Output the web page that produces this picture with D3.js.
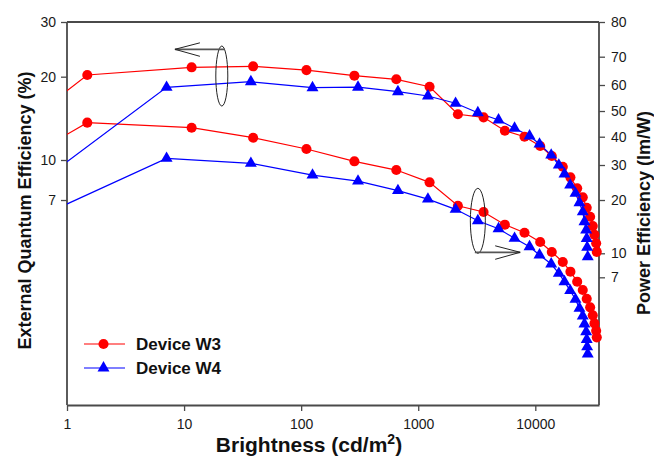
<!DOCTYPE html>
<html>
<head>
<meta charset="utf-8">
<script src="https://cdn.jsdelivr.net/npm/d3@7/dist/d3.min.js"></script>
<style>
  html, body { margin: 0; padding: 0; background: #fff; }
  svg { display: block; font-family: "Liberation Sans", Arial, sans-serif; }
</style>
</head>
<body>
<svg id="chart" width="654" height="457"></svg>
<script>
// ---------------- DATA ----------------
const xTicks = [1, 10, 100, 1000, 10000];
const leftTicks = [7, 10, 20, 30];
const rightTicks = [7, 10, 20, 30, 40, 50, 60, 70, 80];

const seriesNames = ["Device W3", "Device W4"];

const brightnessW3 = [0.6, 1.49, 11.6, 38.9, 111, 285, 650, 1250, 2182, 3614, 5495, 8090, 11010, 13830, 17170, 19950, 22790, 25430, 27490, 29400, 30970, 32000, 33100, 33500];
const eqeW3 = [15.06, 20.25, 21.44, 21.6, 21.0, 20.15, 19.57, 18.4, 14.63, 14.26, 12.76, 12.14, 11.23, 10.34, 9.42, 8.57, 7.77, 7.17, 6.53, 6.03, 5.55, 5.14, 4.76, 4.41];
const peW3 = [35.2, 45.2, 43.25, 39.6, 35.3, 31.15, 28.3, 24.55, 18.57, 17.11, 14.51, 13.07, 11.58, 10.17, 8.79, 7.61, 6.56, 5.80, 5.09, 4.48, 3.98, 3.53, 3.16, 2.87];

const brightnessW4 = [0.6, 7.09, 37.2, 125, 306, 671, 1210, 2085, 3230, 4853, 6650, 8930, 10860, 13670, 15880, 17750, 19850, 22030, 23830, 25430, 26300, 27190, 27490, 27730, 28050];
const eqeW4 = [8.28, 18.31, 19.18, 18.25, 18.33, 17.65, 17.03, 16.03, 14.82, 13.95, 13.02, 12.21, 11.42, 10.42, 9.56, 8.83, 8.00, 7.43, 6.83, 6.30, 5.77, 5.36, 4.97, 4.59, 4.22];
const peW4 = [16.26, 32.1, 30.5, 26.7, 24.9, 22.3, 20.2, 17.72, 15.28, 13.77, 12.15, 10.89, 9.75, 8.53, 7.43, 6.56, 5.74, 5.05, 4.41, 3.94, 3.50, 3.12, 2.78, 2.49, 2.24];

// annotation anchors in data units
const eqeMarker = { x: 21, y: 20.1, tipX: 8.35, tipY: 24.5 };   // left axis
const peMarker = { x: 3230, y: 15.26, tipX: 7430, tipY: 10.13 }; // right axis

// ---------------- LAYOUT ----------------
const W = 654, H = 457;
const m = { left: 67, top: 22, right: 55, bottom: 52 };
const pw = W - m.left - m.right;   // 532
const ph = H - m.top - m.bottom;   // 383
const xMax = 35000;
// axis calibration (fraction of plot height from top for each tick value)
const leftFrac = [0.4648, 0.3603, 0.1428, 0];
const rightFrac = [0.6666, 0.6039, 0.4648, 0.3734, 0.2995, 0.2324, 0.1645, 0.0906, 0];

const RED = "#ff0000", BLUE = "#0000ff", AX = "#4a4a4a";

const svg = d3.select("#chart");
const g = svg.append("g").attr("transform", `translate(${m.left},${m.top})`);

const x = d3.scaleLog().domain([1, xMax]).range([0, pw]);
const yL = d3.scaleLog().domain(leftTicks).range(leftFrac.map(f => f * ph));
const yR = d3.scaleLog().domain(rightTicks).range(rightFrac.map(f => f * ph));

svg.append("defs").append("clipPath").attr("id", "clip")
  .append("rect").attr("x", 0).attr("y", 0).attr("width", pw).attr("height", ph);

// ---------------- AXES ----------------
const fmt = d => String(d);
function styleAxis(sel) {
  sel.select(".domain").attr("stroke", AX).attr("stroke-width", 1.8);
  sel.selectAll(".tick line").attr("stroke", AX).attr("stroke-width", 1.3);
  sel.selectAll(".tick text").attr("fill", "#1a1a1a").attr("font-size", 14)
     .attr("font-family", "'Liberation Sans', Arial, sans-serif");
}
g.append("g").attr("transform", `translate(0,${ph})`)
  .call(d3.axisBottom(x).tickValues(xTicks).tickFormat(fmt).tickSize(6).tickSizeOuter(0).tickPadding(8))
  .call(styleAxis);
g.append("g")
  .call(d3.axisLeft(yL).tickValues(leftTicks).tickFormat(fmt).tickSize(6).tickSizeOuter(0).tickPadding(5))
  .call(styleAxis)
  .call(s => s.select(".domain").attr("d", `M0,${ph}V0`));
g.append("g").attr("transform", `translate(${pw},0)`)
  .call(d3.axisRight(yR).tickValues(rightTicks).tickFormat(fmt).tickSize(6).tickSizeOuter(0).tickPadding(6))
  .call(styleAxis)
  .call(s => s.select(".domain").attr("d", `M0,${ph}V0`));
// top frame
g.append("line").attr("x1", 0).attr("x2", pw).attr("y1", 0).attr("y2", 0)
  .attr("stroke", AX).attr("stroke-width", 1.8);

// ---------------- TITLES ----------------
svg.append("text").attr("transform", `translate(31,${m.top + ph / 2 - 3}) rotate(-90)`)
  .attr("text-anchor", "middle").attr("font-weight", "bold").attr("font-size", 18).attr("fill", "#111")
  .text("External Quantum Efficiency (%)");
svg.append("text").attr("transform", `translate(650,${m.top + 191}) rotate(-90)`)
  .attr("text-anchor", "middle").attr("font-weight", "bold").attr("font-size", 18).attr("fill", "#111")
  .text("Power Efficiency (lm/W)");
const xt = svg.append("text").attr("x", 309).attr("y", 452)
  .attr("text-anchor", "middle").attr("font-weight", "bold").attr("font-size", 21).attr("fill", "#111");
xt.append("tspan").text("Brightness (cd/m");
xt.append("tspan").attr("font-size", 14).attr("dy", -8).text("2");
xt.append("tspan").attr("dy", 8).text(")");

// ---------------- SERIES ----------------
const series = [
  { name: seriesNames[0], xs: brightnessW3, ys: eqeW3, y: yL, color: RED, shape: "circle" },
  { name: seriesNames[0], xs: brightnessW3, ys: peW3, y: yR, color: RED, shape: "circle" },
  { name: seriesNames[1], xs: brightnessW4, ys: eqeW4, y: yL, color: BLUE, shape: "triangle" },
  { name: seriesNames[1], xs: brightnessW4, ys: peW4, y: yR, color: BLUE, shape: "triangle" },
];
const circleSym = d3.symbol().type(d3.symbolCircle).size(80);
const triSym = d3.symbol().type(d3.symbolTriangle).size(62);

series.forEach(s => {
  const pts = s.xs.map((v, i) => [v, s.ys[i]]);
  const line = d3.line().x(d => x(d[0])).y(d => s.y(d[1]));
  g.append("path").attr("clip-path", "url(#clip)").datum(pts)
    .attr("d", line).attr("fill", "none").attr("stroke", s.color).attr("stroke-width", 1.2);
});
series.forEach(s => {
  const pts = s.xs.map((v, i) => [v, s.ys[i]]).filter(d => d[0] >= 1);
  g.append("g").selectAll("path").data(pts).join("path")
    .attr("transform", d => `translate(${x(d[0])},${s.y(d[1])})`)
    .attr("d", s.shape === "circle" ? circleSym() : triSym())
    .attr("fill", s.color);
});

// ---------------- ANNOTATIONS ----------------
function annot(a, yScale, rx, ry, dir) {
  const cx = x(a.x), cy = yScale(a.y), tx = x(a.tipX), ty = yScale(a.tipY);
  g.append("ellipse").attr("cx", cx).attr("cy", cy).attr("rx", rx).attr("ry", ry)
    .attr("fill", "none").attr("stroke", "#222").attr("stroke-width", 1);
  const sx = cx - dir * 3;
  g.append("path").attr("d", `M${sx},${ty}H${tx}`).attr("stroke", "#555").attr("stroke-width", 1.8).attr("fill", "none");
  g.append("path").attr("d", `M${tx - dir * 25},${ty - 6.5}L${tx},${ty}L${tx - dir * 25},${ty + 7}`)
    .attr("stroke", "#222").attr("stroke-width", 1).attr("fill", "none");
}
annot(eqeMarker, yL, 6, 30, -1);
annot(peMarker, yR, 7.5, 32.5, 1);

// ---------------- LEGEND ----------------
const lg = svg.append("g");
[{ c: RED, s: "circle", t: seriesNames[0], y: 344 }, { c: BLUE, s: "triangle", t: seriesNames[1], y: 368 }]
  .forEach(e => {
    lg.append("line").attr("x1", 84).attr("x2", 125).attr("y1", e.y).attr("y2", e.y)
      .attr("stroke", e.c).attr("stroke-width", 1.2);
    lg.append("path").attr("transform", `translate(103.5,${e.y})`)
      .attr("d", e.s === "circle" ? circleSym() : triSym()).attr("fill", e.c);
    lg.append("text").attr("x", 136).attr("y", e.y + 6).attr("font-weight", "bold")
      .attr("font-size", 17).attr("fill", "#111").text(e.t);
  });
</script>
</body>
</html>
